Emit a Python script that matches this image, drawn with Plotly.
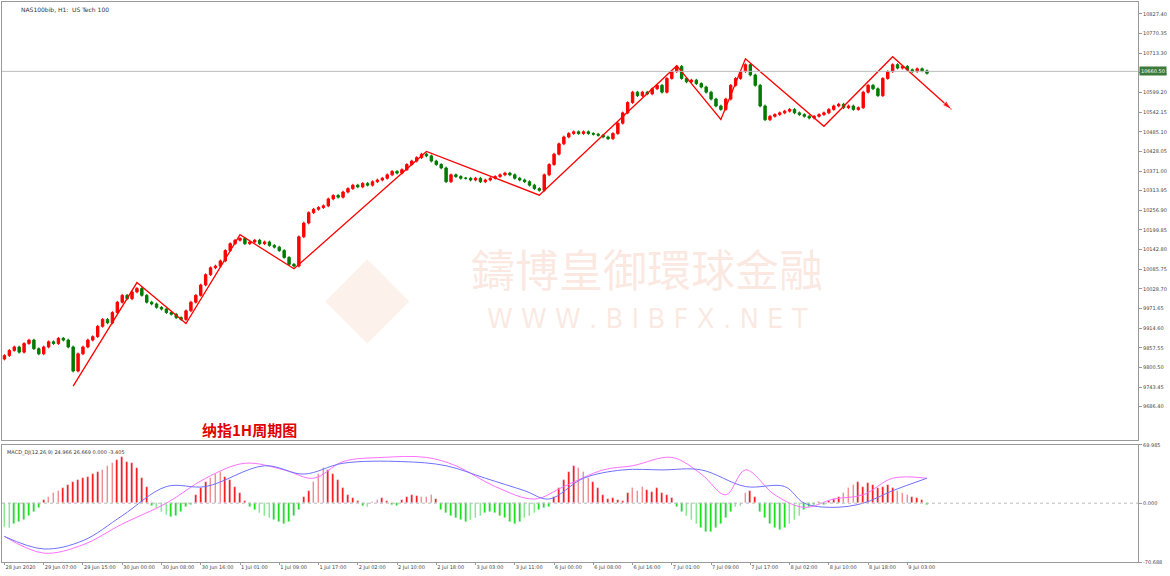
import plotly.graph_objects as go

# closes per H1 bar, open = previous close
closes = (
    [9835, 9850, 9860, 9845, 9870, 9880, 9855, 9840, 9860, 9875, 9870, 9885, 9880, 9860, 9790]
    + [9840, 9860, 9880, 9890, 9920, 9940, 9930, 9960, 9990, 10010, 10000, 10020, 10030]
    + [10010, 9990, 9985, 9975, 9970, 9960, 9955, 9945, 9940, 9965]
    + [9990, 10010, 10040, 10070, 10090, 10095, 10110, 10140, 10160, 10170, 10175]
    + [10160, 10165, 10170, 10160, 10165, 10155, 10150, 10140, 10120, 10100, 10095]
    + [10180, 10220, 10250, 10260, 10265, 10270, 10290, 10300, 10295, 10310, 10320, 10330, 10325, 10335,
       10330, 10340, 10345, 10350, 10360, 10370, 10365, 10375, 10390, 10400, 10410, 10420, 10415]
    + [10400, 10390, 10380, 10340, 10360, 10355, 10350, 10350, 10345, 10350, 10340, 10345, 10350, 10355,
       10360, 10365, 10360, 10350, 10345, 10340, 10330, 10320, 10315]
    + [10360, 10390, 10420, 10450, 10470, 10480, 10485, 10480, 10485, 10480, 10478, 10475, 10470, 10465,
       10480, 10510, 10540, 10570, 10600, 10590, 10600, 10595, 10610, 10620, 10600, 10640, 10660, 10675]
    + [10640, 10630, 10635, 10625, 10615, 10600, 10580, 10560, 10550]
    + [10580, 10620, 10640, 10660, 10680]
    + [10650, 10620, 10560, 10520, 10530, 10535, 10540, 10545, 10550, 10540, 10535, 10530, 10525, 10530, 10535, 10540]
    + [10550, 10560, 10565, 10555, 10560, 10550, 10555, 10600, 10620, 10610, 10590, 10640, 10660, 10680]
    + [10670, 10675, 10665, 10660, 10668, 10662, 10655]
)
opens = [9825] + closes[:-1]

# hand-drawn zigzag (bar index, price)
zz_x = [14, 27, 37, 48, 59, 86, 109, 137, 146, 151, 167, 181, 193]
zz_y = [9746, 10047, 9928, 10186, 10087, 10428, 10301, 10677, 10521, 10697, 10501, 10703, 10550]

macd_hist = (
    [-28, -30, -25, -22, -20, -15, -10, -6]
    + [4, 8, 12, 15, 18, 22, 25, 28, 30, 32, 35, 38, 40, 45, 48, 52, 55, 50, 48, 42]
    + [30, 20]
    + [-3, -6, -10, -14, -16, -15, -10, -5, -2]
    + [10, 18, 25, 30, 35, 38, 32, 28, 20, 12]
    + [3]
    + [-5, -8, -12, -15, -18, -20, -22, -25, -22, -15, -8]
    + [8, 15, 25, 35, 42, 40, 35, 28, 18, 10]
    + [6, 3, -3, -4, 2, 4, 6, 3, -2, -3, 4]
    + [8, 10, 9, 8, 7, 10, 5]
    + [-8, -12, -15, -18, -20, -22, -20, -18, -15, -12, -10, -12, -15, -18, -22, -25, -22, -18, -15, -12, -8, -6, -4]
    + [8, 18, 28, 38, 45, 42, 38, 30, 25, 18, 10]
    + [5, 6, 4, 3]
    + [12, 18, 15, 20, 16, 14, 18, 12, 10, 6]
    + [-5, -10, -15, -20, -25, -30, -35, -35, -30, -25, -18, -10, -5, -3]
    + [12, 15, 8]
    + [-10, -18, -25, -30, -32, -30, -25, -20, -15, -8]
    + [-4, -2, 2, -2, 3, 5, 8]
    + [12, 18, 22, 25, 20, 24, 22, 18, 20, 22, 18, 15, 12]
    + [10, 8, 6, 4, -2]
)
main_x = [0, 8, 16, 24, 33, 41, 49, 57, 63, 69, 77, 86, 92, 100, 108, 114, 122, 128, 136, 142, 147, 151, 157, 163, 169, 175, 181, 188]
main_y = [-40, -60, -50, -25, 0, 30, 48, 40, 30, 50, 55, 55, 45, 20, 5, 20, 40, 45, 55, 35, 10, 40, 10, -5, 5, 10, 30, 30]
sig_x = [0, 8, 16, 24, 33, 41, 53, 61, 69, 81, 90, 98, 106, 111, 118, 126, 134, 142, 151, 159, 163, 169, 175, 181, 188]
sig_y = [-40, -55, -45, -15, 20, 20, 45, 35, 48, 50, 45, 30, 15, 5, 30, 40, 40, 40, 20, 20, 0, -5, 0, 15, 30]

tick_text = ["28 Jun 2020", "29 Jun 07:00", "29 Jun 15:00", "30 Jun 00:00", "30 Jun 08:00", "30 Jun 16:00",
             "1 Jul 01:00", "1 Jul 09:00", "1 Jul 17:00", "2 Jul 02:00", "2 Jul 10:00", "2 Jul 18:00",
             "3 Jul 03:00", "3 Jul 11:00", "6 Jul 00:00", "6 Jul 08:00", "6 Jul 16:00", "7 Jul 01:00",
             "7 Jul 09:00", "7 Jul 17:00", "8 Jul 02:00", "8 Jul 10:00", "8 Jul 18:00", "9 Jul 03:00"]
price_ticks = [10827.40 - 57.05 * k for k in range(21)]

bars = list(range(len(closes)))
highs = [max(o, c) + 4 for o, c in zip(opens, closes)]
lows = [min(o, c) - 4 for o, c in zip(opens, closes)]

fig = go.Figure()
fig.add_trace(go.Candlestick(
    x=bars, open=opens, high=highs, low=lows, close=closes,
    increasing=dict(line=dict(color="#ff0000", width=1), fillcolor="#ff0000"),
    decreasing=dict(line=dict(color="#007a00", width=1), fillcolor="#007a00"),
    whiskerwidth=0, xaxis="x", yaxis="y", hoverinfo="skip"))
fig.add_trace(go.Scatter(x=zz_x, y=zz_y, mode="lines+markers", line=dict(color="#ff0000", width=1.3),
                         marker=dict(symbol=["circle"] * 12 + ["arrow"], size=[0] * 12 + [10],
                                     angleref="previous", color="#ff0000"),
                         xaxis="x", yaxis="y"))

fig.add_trace(go.Bar(x=bars, y=macd_hist, width=0.35,
                     marker_color=["#ff0000" if v >= 0 else "#00e000" for v in macd_hist],
                     xaxis="x2", yaxis="y2"))
fig.add_trace(go.Scatter(x=main_x, y=main_y, mode="lines", line=dict(color="#ff70ff", width=1, shape="spline"),
                         xaxis="x2", yaxis="y2"))
fig.add_trace(go.Scatter(x=sig_x, y=sig_y, mode="lines", line=dict(color="#7070ff", width=1, shape="spline"),
                         xaxis="x2", yaxis="y2"))

tick_font = dict(family="DejaVu Sans", size=5, color="#444")
ax = dict(showgrid=False, zeroline=False, showline=True, linecolor="#999", mirror=True,
          automargin=False, tickfont=tick_font, ticks="outside", ticklen=3, tickcolor="#999")
fig.update_layout(
    width=1170, height=576, margin=dict(l=2, r=32, t=2, b=14),
    paper_bgcolor="white", plot_bgcolor="white", showlegend=False,
    xaxis=dict(ax, domain=[0, 1], range=[-0.5, 231], showticklabels=False, ticks="",
               rangeslider=dict(visible=False)),
    yaxis=dict(ax, domain=[0.218, 1], range=[9590, 10862], side="right", tickvals=price_ticks,
               ticktext=["%.2f" % v for v in price_ticks]),
    xaxis2=dict(ax, domain=[0, 1], range=[-0.5, 231], anchor="y2", tickvals=list(range(0, 185, 8)),
                ticktext=tick_text, tickangle=0, ticklabelposition="outside right", ticklen=2),
    yaxis2=dict(ax, domain=[0, 0.209], range=[-70.688, 69.985], side="right", anchor="x2",
                tickvals=[69.985, 0, -70.688], ticktext=["69.985", "0.000", "-70.688"]),
    bargap=0,
)
fig.add_hline(y=10660.50, line=dict(color="#bbb", width=1), yref="y")
fig.add_hline(y=0, line=dict(color="#bbb", width=1, dash="dot"), yref="y2", xref="x2")
fig.add_annotation(x=1, xref="paper", y=10660.50, yref="y", text="10660.50", showarrow=False,
                   xanchor="left", xshift=1, bgcolor="#3b7a3b", font=dict(family="DejaVu Sans", size=5, color="white"))

fig.add_annotation(x=0.015, xref="paper", y=1, yref="paper", text="NAS100bib, H1:  US Tech 100",
                   showarrow=False, xanchor="left", yanchor="top", yshift=-2, font=dict(family="DejaVu Sans", size=6, color="#333"))
fig.add_annotation(x=0.003, xref="paper", y=0.209, yref="paper", text="MACD_DJ(12,26,9) 24.966 26.669 0.000 -3.405",
                   showarrow=False, xanchor="left", yanchor="top", yshift=-2, font=dict(family="DejaVu Sans", size=5, color="#333"))
fig.add_annotation(x=50, y=9620, xref="x", yref="y", text="<b>纳指1H周期图</b>", showarrow=False,
                   font=dict(family="Noto Sans CJK SC", size=15, color="#e00000"))
# watermark
fig.add_annotation(x=131, y=10090, xref="x", yref="y", text="鑄博皇御環球金融", showarrow=False,
                   font=dict(family="Noto Sans CJK TC", size=44, color="rgba(235,150,120,0.22)"))
fig.add_annotation(x=131, y=9940, xref="x", yref="y", text="W W W . B I B F X . N E T", showarrow=False,
                   font=dict(family="DejaVu Sans", size=26, color="rgba(235,150,120,0.22)"))
fig.add_annotation(x=74, y=10020, xref="x", yref="y", text="◆", showarrow=False,
                   font=dict(family="DejaVu Sans", size=110, color="rgba(235,170,130,0.16)"))

fig.write_html("out.html", config={"displayModeBar": False},
               post_script="document.body.style.margin='0';")
